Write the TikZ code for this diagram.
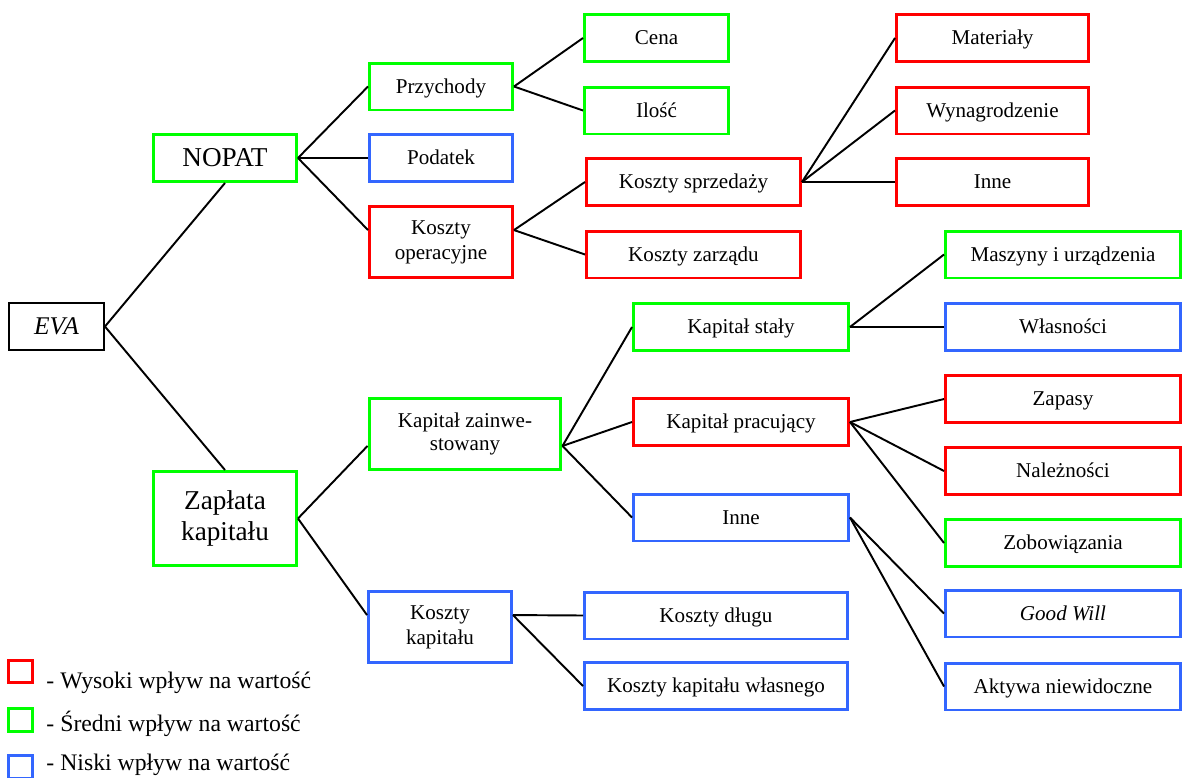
\documentclass[tikz,border=0pt]{standalone}
\usepackage{fontspec}
\setmainfont{Liberation Serif}
\definecolor{wysoki}{RGB}{255,0,0}
\definecolor{sredni}{RGB}{0,255,0}
\definecolor{niski}{RGB}{51,102,255}

\begin{document}
\begin{tikzpicture}
			[x=0.02cm,y=-0.02cm,every node/.style={rectangle,draw,line width=1.7pt,inner sep=0pt,align=center,font=\fontsize{12}{14.2}\selectfont},
			high/.style={draw=wysoki}, mid/.style={draw=sredni}, low/.style={draw=niski},
			big/.style={font=\fontsize{15.5}{17.5}\selectfont},
			one/.style={text height=8pt,text depth=0.5pt},
			b1/.style={one,minimum width=2.86cm,minimum height=0.94cm},
			b2/.style={one,minimum width=4.28cm,minimum height=0.94cm},
			b3/.style={one,minimum width=4.7cm,minimum height=0.94cm},
			legend/.style={draw=none,anchor=base west,font=\fontsize{13.5}{16}\selectfont},
			edge/.style={line width=1.1pt}]
			\useasboundingbox (0,0) rectangle (1184,778);
			
			\node[line width=1.1pt,minimum width=1.9cm,minimum height=0.94cm,font=\fontsize{14.5}{16}\itshape] (eva) at (56.5,326.5) {EVA};
			\node[mid,big,minimum width=2.86cm,minimum height=0.94cm] (nopat) at (225,158) {NOPAT};
			\node[mid,big,minimum width=2.86cm,minimum height=1.88cm] (zaplata) at (225,518.5) {Zapłata\\kapitału};
			
			\node[mid,b1] (przychody) at (441,86.5) {Przychody};
			\node[low,b1] (podatek) at (441,158) {Podatek};
			\node[high,b1,text height=,text depth=,minimum height=1.42cm] (kopera) at (441,242) {Koszty\\operacyjne};
			\node[mid,b1,minimum width=2.88cm] (cena) at (656.5,38) {Cena};
			\node[mid,b1,minimum width=2.88cm] (ilosc) at (656.5,110.5) {Ilość};
			\node[high,b2] (ksprz) at (693.5,182) {Koszty sprzedaży};
			\node[high,b2] (kzarz) at (693.5,254.5) {Koszty zarządu};
			\node[high,b1,minimum width=3.84cm] (mater) at (992.5,38) {Materiały};
			\node[high,b1,minimum width=3.84cm] (wynagr) at (992.5,110.5) {Wynagrodzenie};
			\node[high,b1,minimum width=3.84cm] (inne1) at (992.5,182) {Inne};
			
			\node[mid,minimum width=3.84cm,minimum height=1.42cm,font=\fontsize{12}{13.6}\selectfont] (kzainw) at (465,434) {Kapitał zainwe-\\stowany};
			\node[low,minimum width=2.86cm,minimum height=1.42cm] (kkap) at (440,627) {Koszty\\kapitału};
			\node[mid,b2,minimum width=4.3cm] (kstaly) at (741,327) {Kapitał stały};
			\node[high,b2,minimum width=4.3cm] (kprac) at (741,422) {Kapitał pracujący};
			\node[low,b2,minimum width=4.3cm] (inne2) at (741,517.5) {Inne};
			\node[low,b2,minimum width=5.26cm] (kdlugu) at (716,615.5) {Koszty długu};
			\node[low,b2,minimum width=5.26cm] (kwlasny) at (716,686) {Koszty kapitału własnego};
			
			\node[mid,b3] (maszyny) at (1063,254.5) {Maszyny i urządzenia};
			\node[low,b3] (wlasn) at (1063,327) {Własności};
			\node[high,b3] (zapasy) at (1063,399) {Zapasy};
			\node[high,b3] (nalezn) at (1063,471) {Należności};
			\node[mid,b3] (zobow) at (1063,543) {Zobowiązania};
			\node[low,b3] (goodwill) at (1063,613.5) {\itshape Good Will};
			\node[low,b3] (aktywa) at (1063,686.5) {Aktywa niewidoczne};
			
			% legenda
			\node[high,minimum width=0.48cm,minimum height=0.44cm] (lhigh) at (20.5,671.5) {};
			\node[mid,minimum width=0.48cm,minimum height=0.46cm] (lmid) at (20.5,720) {};
			\node[low,minimum width=0.48cm,minimum height=0.46cm] (llow) at (20.5,767) {};
			\node[legend] (thigh) at (45,688) {- Wysoki wpływ na wartość};
			\node[legend] (tmid) at (45,731) {- Średni wpływ na wartość};
			\node[legend] (tlow) at (45,770) {- Niski wpływ na wartość};
			
			\draw[edge] (eva.east) to (nopat.south);
			\draw[edge] (eva.east) to (zaplata.north);
			\draw[edge] (nopat.east) to (przychody.west);
			\draw[edge] (nopat.east) to (podatek.west);
			\draw[edge] (nopat.east) to ([yshift=6.8pt]kopera.west);
			\draw[edge] (przychody.east) to (cena.west);
			\draw[edge] (przychody.east) to (ilosc.west);
			\draw[edge] ([yshift=6.8pt]kopera.east) to (ksprz.west);
			\draw[edge] ([yshift=6.8pt]kopera.east) to (kzarz.west);
			\draw[edge] (ksprz.east) to (mater.west);
			\draw[edge] (ksprz.east) to (wynagr.west);
			\draw[edge] (ksprz.east) to (inne1.west);
			
			\draw[edge] (zaplata.east) to ([yshift=-6.8pt]kzainw.west);
			\draw[edge] (zaplata.east) to ([yshift=6.8pt]kkap.west);
			\draw[edge] ([yshift=-6.8pt]kzainw.east) to (kstaly.west);
			\draw[edge] ([yshift=-6.8pt]kzainw.east) to (kprac.west);
			\draw[edge] ([yshift=-6.8pt]kzainw.east) to (inne2.west);
			\draw[edge] ([yshift=6.8pt]kkap.east) to (kdlugu.west);
			\draw[edge] ([yshift=6.8pt]kkap.east) to (kwlasny.west);
			\draw[edge] (kstaly.east) to (maszyny.west);
			\draw[edge] (kstaly.east) to (wlasn.west);
			\draw[edge] (kprac.east) to (zapasy.west);
			\draw[edge] (kprac.east) to (nalezn.west);
			\draw[edge] (kprac.east) to (zobow.west);
			\draw[edge] (inne2.east) to (goodwill.west);
			\draw[edge] (inne2.east) to (aktywa.west);
			
\end{tikzpicture}
\end{document}
